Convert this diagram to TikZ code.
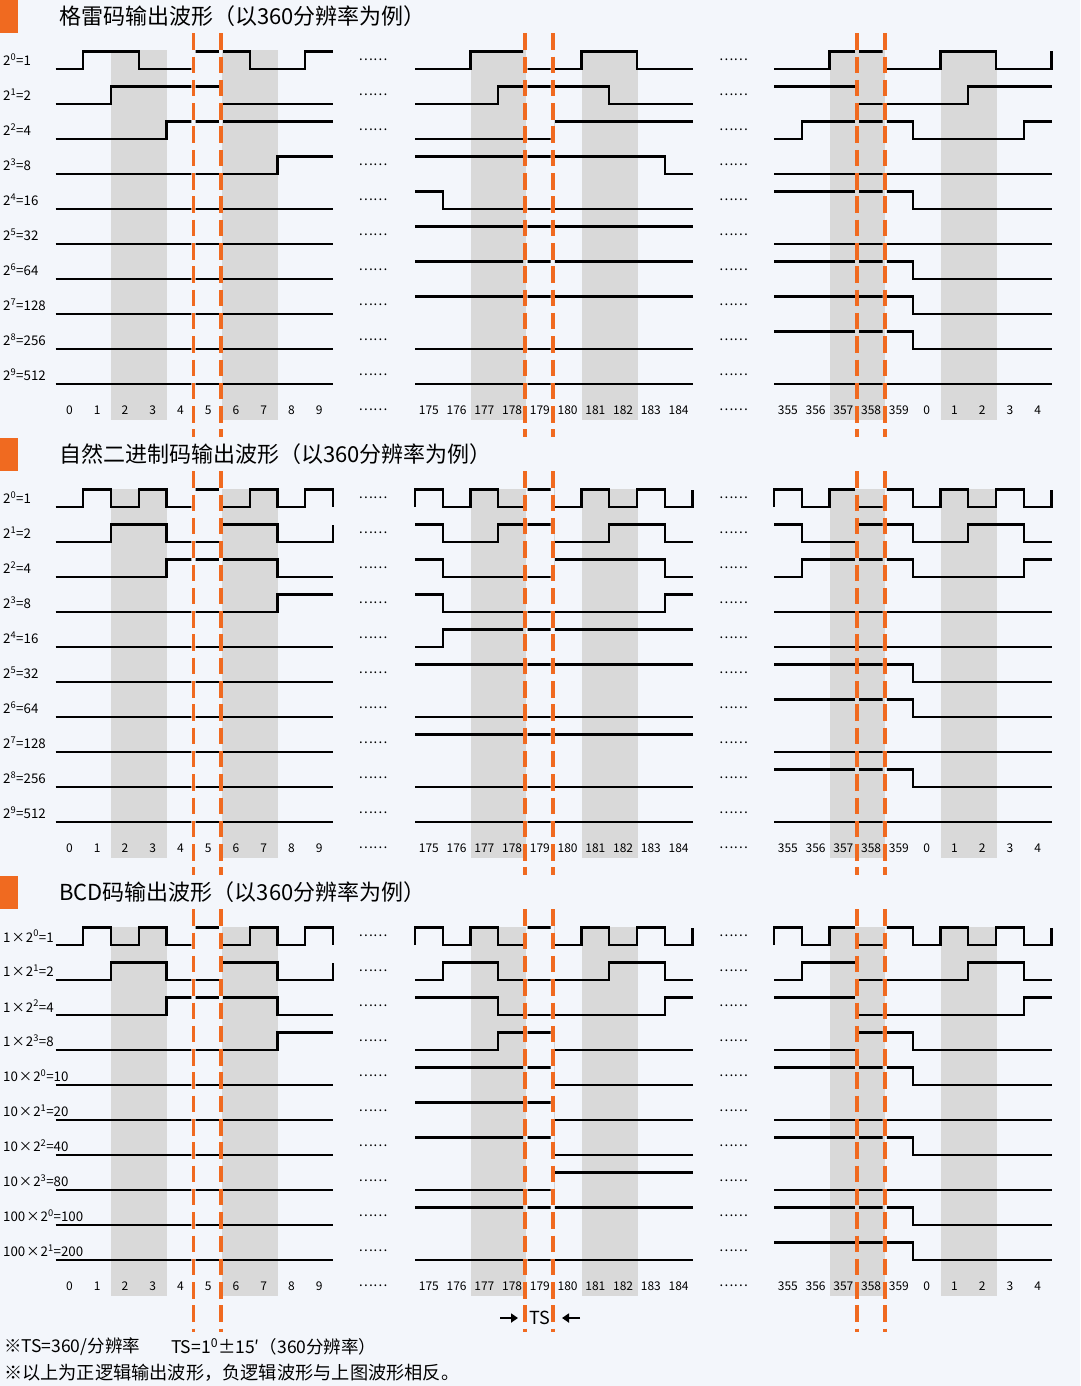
\documentclass[tikz,border=0pt]{standalone}
\usepackage{fontspec}
\setmainfont{Noto Sans CJK SC}
\usetikzlibrary{arrows.meta}
\definecolor{bgc}{HTML}{F3F6FB}
\definecolor{band}{HTML}{D9D9D9}
\definecolor{org}{HTML}{F06A20}
\tikzset{
 wavl/.style={line width=2.2pt, black, line join=miter},
 lab/.style={anchor=west, font=\fontsize{13.3}{15}\selectfont, inner sep=0pt},
 num/.style={font=\fontsize{12}{14}\selectfont, inner sep=0pt},
 dots/.style={font=\fontsize{13.5}{15}\selectfont, inner sep=0pt},
 ttl/.style={anchor=west, font=\fontsize{22}{25}\selectfont, inner sep=0pt},
 note/.style={anchor=west, font=\fontsize{17.5}{20}\selectfont, inner sep=0pt},
 dsh/.style={draw=org, line width=3.8pt, dash pattern=on 16.5pt off 6.8pt},
}
\newcommand\wv[5]{\draw[wavl] (#1,#2-17.5*#3) foreach \bv [count=\kk] in {#4} { |- (#1+\kk*27.75,#2-17.5*\bv) } -- (#1+277.5,#2-17.5*#5);}
\newcommand\wz[2]{\wv{#1}{#2}{0}{0,0,0,0,0,0,0,0,0,0}{0}}
\newcommand\wo[2]{\wv{#1}{#2}{1}{1,1,1,1,1,1,1,1,1,1}{1}}
\newcommand\wh[2]{\wv{#1}{#2}{1}{1,1,1,1,1,0,0,0,0,0}{0}}
\begin{document}
\begin{tikzpicture}[x=1pt,y=-1pt]
\useasboundingbox (0,0) rectangle (1080,1386);
\fill[bgc] (0,0) rectangle (1080,1386);
% orange markers
\foreach \yy in {0,438,876} { \fill[org] (0,\yy) rectangle (17.5,\yy+33); }
% gray bands
\foreach \yy in {0,438,876} {
  \foreach \xa/\xb in {111/167,222/277.5,470.5/526,581.5/637.5,829.5/885,940.5/996.5} {
    \fill[band] (\xa,50.5+\yy) rectangle (\xb,420+\yy);
  }
}
% titles
\node[ttl] (t1) at (59,16) {格雷码输出波形（以360分辨率为例）};
\node[ttl] (t2) at (59,454) {自然二进制码输出波形（以360分辨率为例）};
\node[ttl] (t3) at (59,892) {BCD码输出波形（以360分辨率为例）};
% row labels
\foreach \e/\v [count=\r from 0] in {0/1,1/2,2/4,3/8,4/16,5/32,6/64,7/128,8/256,9/512} {
  \node[lab] (ga\r) at (3,60+35*\r) {2\textsuperscript{\e}=\v};
  \node[lab] (gb\r) at (3,498+35*\r) {2\textsuperscript{\e}=\v};
}
\foreach \m/\e/\v [count=\r from 0] in {1/0/1,1/1/2,1/2/4,1/3/8,10/0/10,10/1/20,10/2/40,10/3/80,100/0/100,100/1/200} {
  \node[lab] (gc\r) at (3,936+35*\r) {\m\kern1pt×\kern1pt 2\textsuperscript{\e}=\v};
}
% ellipses
\foreach \yy [count=\r] in {0,438,876} {
  \foreach \j in {0,...,10} {
    \node[dots] (da\r-\j) at (373,60+\yy+35*\j) {……};
    \node[dots] (db\r-\j) at (733.5,60+\yy+35*\j) {……};
  }
}
% column numbers
\foreach \yy [count=\r] in {0,438,876} {
  \foreach \t [count=\k from 0] in {0,1,2,3,4,5,6,7,8,9} {
    \node[num] (na\r-\k) at (69.4+27.75*\k,410+\yy) {\t};
  }
  \foreach \t [count=\k from 0] in {175,176,177,178,179,180,181,182,183,184} {
    \node[num] (nb\r-\k) at (428.9+27.75*\k,410+\yy) {\t};
  }
  \foreach \t [count=\k from 0] in {355,356,357,358,359,0,1,2,3,4} {
    \node[num] (nc\r-\k) at (787.9+27.75*\k,410+\yy) {\t};
  }
}
% waveforms
\begin{scope}[even odd rule]
\clip (0,0) rectangle (1080,1386)
 (191.3,0) rectangle (195.7,1386) (218.8,0) rectangle (223.2,1386)
 (523.1,0) rectangle (527.5,1386) (550.5,0) rectangle (554.9,1386)
 (854.8,0) rectangle (859.2,1386) (882.5,0) rectangle (886.9,1386);
% --- Gray code
\wv{55.5}{69}{0}{0,1,1,0,0,1,1,0,0,1}{1}
\wv{55.5}{104}{0}{0,0,1,1,1,1,0,0,0,0}{0}
\wv{55.5}{139}{0}{0,0,0,0,1,1,1,1,1,1}{1}
\wv{55.5}{174}{0}{0,0,0,0,0,0,0,0,1,1}{1}
\wz{55.5}{209}\wz{55.5}{244}\wz{55.5}{279}\wz{55.5}{314}\wz{55.5}{349}\wz{55.5}{384}
\wv{415}{69}{0}{0,0,1,1,0,0,1,1,0,0}{0}
\wv{415}{104}{0}{0,0,0,1,1,1,1,0,0,0}{0}
\wv{415}{139}{0}{0,0,0,0,0,1,1,1,1,1}{1}
\wv{415}{174}{1}{1,1,1,1,1,1,1,1,1,0}{0}
\wv{415}{209}{1}{1,0,0,0,0,0,0,0,0,0}{0}
\wo{415}{244}\wo{415}{279}\wo{415}{314}
\wz{415}{349}\wz{415}{384}
\wv{774}{69}{0}{0,0,1,1,0,0,1,1,0,0}{1}
\wv{774}{104}{1}{1,1,1,0,0,0,0,1,1,1}{1}
\wv{774}{139}{0}{0,1,1,1,1,0,0,0,0,1}{1}
\wz{774}{174}
\wh{774}{209}
\wz{774}{244}
\wh{774}{279}\wh{774}{314}\wh{774}{349}
\wz{774}{384}
% --- natural binary
\wv{55.5}{507}{0}{0,1,0,1,0,1,0,1,0,1}{0}
\wv{55.5}{542}{0}{0,0,1,1,0,0,1,1,0,0}{1}
\wv{55.5}{577}{0}{0,0,0,0,1,1,1,1,0,0}{0}
\wv{55.5}{612}{0}{0,0,0,0,0,0,0,0,1,1}{1}
\wz{55.5}{647}\wz{55.5}{682}\wz{55.5}{717}\wz{55.5}{752}\wz{55.5}{787}\wz{55.5}{822}
\wv{415}{507}{0}{1,0,1,0,1,0,1,0,1,0}{1}
\wv{415}{542}{1}{1,0,0,1,1,0,0,1,1,0}{0}
\wv{415}{577}{1}{1,0,0,0,0,1,1,1,1,0}{0}
\wv{415}{612}{1}{1,0,0,0,0,0,0,0,0,1}{1}
\wv{415}{647}{0}{0,1,1,1,1,1,1,1,1,1}{1}
\wo{415}{682}
\wz{415}{717}
\wo{415}{752}
\wz{415}{787}\wz{415}{822}
\wv{774}{507}{0}{1,0,1,0,1,0,1,0,1,0}{1}
\wv{774}{542}{1}{1,0,0,1,1,0,0,1,1,0}{0}
\wv{774}{577}{0}{0,1,1,1,1,0,0,0,0,1}{1}
\wz{774}{612}\wz{774}{647}
\wh{774}{682}\wh{774}{717}
\wz{774}{752}
\wh{774}{787}
\wz{774}{822}
% --- BCD
\wv{55.5}{945}{0}{0,1,0,1,0,1,0,1,0,1}{0}
\wv{55.5}{980}{0}{0,0,1,1,0,0,1,1,0,0}{1}
\wv{55.5}{1015}{0}{0,0,0,0,1,1,1,1,0,0}{0}
\wv{55.5}{1050}{0}{0,0,0,0,0,0,0,0,1,1}{1}
\wz{55.5}{1085}\wz{55.5}{1120}\wz{55.5}{1155}\wz{55.5}{1190}\wz{55.5}{1225}\wz{55.5}{1260}
\wv{415}{945}{0}{1,0,1,0,1,0,1,0,1,0}{1}
\wv{415}{980}{0}{0,1,1,0,0,0,0,1,1,0}{0}
\wv{415}{1015}{1}{1,1,1,0,0,0,0,0,0,1}{1}
\wv{415}{1050}{0}{0,0,0,1,1,0,0,0,0,0}{0}
\wh{415}{1085}\wh{415}{1120}\wh{415}{1155}
\wv{415}{1190}{0}{0,0,0,0,0,1,1,1,1,1}{1}
\wo{415}{1225}
\wz{415}{1260}
\wv{774}{945}{0}{1,0,1,0,1,0,1,0,1,0}{1}
\wv{774}{980}{0}{0,1,1,0,0,0,0,1,1,0}{0}
\wv{774}{1015}{1}{1,1,1,0,0,0,0,0,0,1}{1}
\wv{774}{1050}{0}{0,0,0,1,1,0,0,0,0,0}{0}
\wh{774}{1085}
\wz{774}{1120}
\wh{774}{1155}
\wz{774}{1190}
\wh{774}{1225}\wh{774}{1260}
\end{scope}
% dashed markers
\foreach \x in {193.5,221,525.3,552.7,857,884.7} {
  \draw[dsh] (\x,33.3) -- (\x,437);
  \draw[dsh] (\x,471.3) -- (\x,875);
  \draw[dsh] (\x,909.3) -- (\x,1332);
}
% TS marker
\coordinate (ra) at (500,1318);
\coordinate (rb) at (518,1318);
\coordinate (la) at (580,1318);
\coordinate (lb) at (562,1318);
\draw[-{Triangle[length=7pt,width=9pt]}, line width=2.6pt] (ra) -- (rb);
\draw[-{Triangle[length=7pt,width=9pt]}, line width=2.6pt] (la) -- (lb);
\node[font=\fontsize{18}{20}\selectfont, inner sep=0pt] (ts) at (540,1318) {TS};
% notes
\node[note] (n1) at (4,1347) {※TS=360/分辨率};
\node[note] (n2) at (171,1347) {TS=1\textsuperscript{0}±15′（360分辨率）};
\node[note, font=\fontsize{18.2}{20}\selectfont] (n3) at (4,1373) {※以上为正逻辑输出波形，负逻辑波形与上图波形相反。};
\end{tikzpicture}
\end{document}
